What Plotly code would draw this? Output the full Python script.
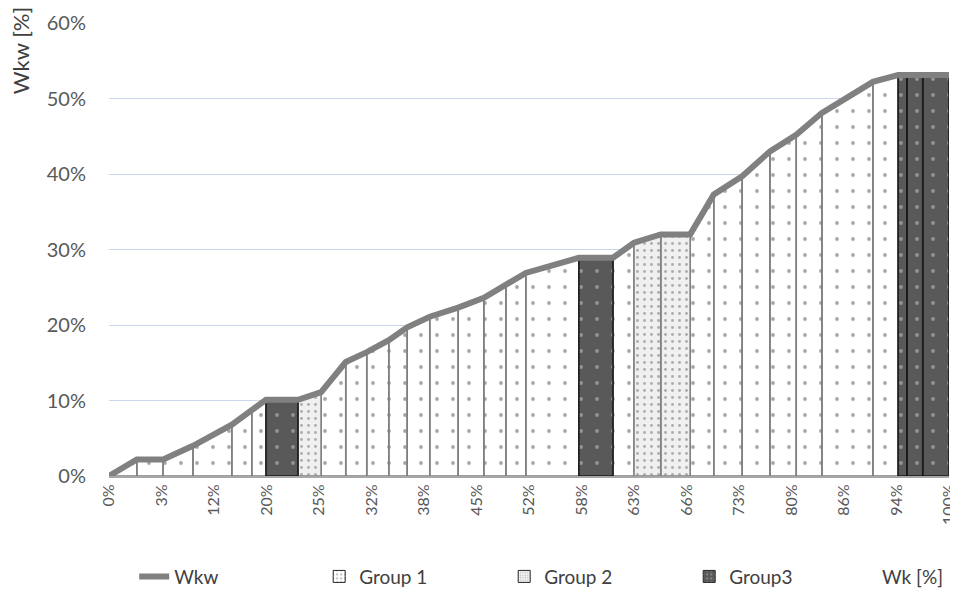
import plotly.graph_objects as go

# ---- data ----
wk_labels = ["0%", "3%", "12%", "20%", "25%", "32%", "38%", "45%", "52%",
             "58%", "63%", "66%", "73%", "80%", "86%", "94%", "100%"]
# positions of the Wkw vertices along the (evenly labelled) Wk axis, in label slots
wk_pos = [0, 0.53, 1.03, 1.6, 2.34, 2.72, 2.99, 3.6, 4.04, 4.51, 4.91, 5.33,
          5.68, 6.11, 6.65, 7.14, 7.56, 7.94, 8.95, 9.6, 10.0, 10.51, 11.07,
          11.52, 12.06, 12.59, 13.09, 13.58, 14.55, 15.03, 15.2, 15.5, 16.0]
# cumulative Wkw [%] at each vertex
wkw = [0, 2.2, 2.2, 4.0, 6.8, 8.6, 10.1, 10.1, 11.1, 15.1, 16.4, 18.0, 19.7,
       21.1, 22.3, 23.6, 25.3, 26.9, 28.9, 28.9, 30.9, 32.0, 32.0, 37.3, 39.7,
       43.0, 45.2, 48.1, 52.2, 53.1, 53.1, 53.1, 53.1]
# group of each segment between consecutive vertices
segment_group = [1, 1, 1, 1, 1, 1, 3, 2, 1, 1, 1, 1, 1, 1, 1, 1, 1, 1, 3, 1,
                 2, 2, 1, 1, 1, 1, 1, 1, 1, 3, 3, 3]
group_names = {1: "Group 1", 2: "Group 2", 3: "Group3"}
y_ticks = [0, 10, 20, 30, 40, 50, 60]

styles = {
    1: dict(bg="#ffffff", fg="#505050", size=16, solidity=0.045, edge="#808080"),
    2: dict(bg="#f0f0f0", fg="#6a6a6a", size=7, solidity=0.14, edge="#808080"),
    3: dict(bg="#595959", fg="#d0d0d0", size=16, solidity=0.045, edge="#1a1a1a"),
}

fig = go.Figure()

# filled segments under the Wkw curve, one trace per group
for g in (1, 2, 3):
    xs, ys = [], []
    for i, sg in enumerate(segment_group):
        if sg != g:
            continue
        x0, x1 = wk_pos[i], wk_pos[i + 1]
        y0, y1 = wkw[i], wkw[i + 1]
        xs += [x0, x0, x1, x1, x0, None]
        ys += [0, y0, y1, 0, 0, None]
    st = styles[g]
    fig.add_trace(go.Scatter(
        x=xs, y=ys, mode="lines", fill="toself",
        fillcolor=st["bg"],
        fillpattern=dict(shape=".", bgcolor=st["bg"], fgcolor=st["fg"],
                         size=st["size"], solidity=st["solidity"]),
        line=dict(color=st["edge"], width=1.6),
        showlegend=False, hoverinfo="skip",
    ))

# Wkw line
fig.add_trace(go.Scatter(
    x=wk_pos, y=wkw, mode="lines", name="Wkw",
    line=dict(color="#808080", width=6), cliponaxis=False,
))

# legend entries for the groups
for g in (1, 2, 3):
    st = styles[g]
    fig.add_trace(go.Bar(
        x=[None], y=[None], name=group_names[g],
        marker=dict(color=st["bg"],
                    pattern=dict(shape=".", bgcolor=st["bg"], fgcolor=st["fg"],
                                 size=5 if g != 2 else 3, solidity=0.2),
                    line=dict(color="#262626", width=1)),
    ))

# the page body adds an 8px offset, so the figure is 8px smaller than the window
fig.update_layout(
    width=950, height=588,
    margin=dict(l=101, r=9, t=15, b=120, autoexpand=False),
    plot_bgcolor="white", paper_bgcolor="white",
    font=dict(family="Lato, 'Open Sans', sans-serif", size=15, color="#595959"),
    showlegend=True,
    legend=dict(orientation="h", x=0.03, y=-0.222, xanchor="left", yanchor="middle",
                entrywidth=140, entrywidthmode="pixels",
                font=dict(size=19, color="#404040"), traceorder="normal"),
    xaxis=dict(type="linear", range=[0, 16], tickmode="array",
               tickvals=list(range(len(wk_labels))), ticktext=wk_labels,
               tickangle=-90, showgrid=False, zeroline=False, automargin=False,
               showline=True, linecolor="#a6a6a6", linewidth=2, ticks="",
               tickfont=dict(size=16, color="#595959")),
    yaxis=dict(range=[0, 60], tickmode="array", tickvals=y_ticks,
               ticktext=[f"{v}%" for v in y_ticks], automargin=False,
               showgrid=True, gridcolor="#c8d7ec", gridwidth=1, zeroline=False,
               showline=False, ticks="", ticklabelstandoff=22,
               tickfont=dict(size=20, color="#595959")),
    annotations=[
        dict(text="Wkw [%]", xref="paper", yref="paper", x=-0.105, y=1.04,
             xanchor="center", yanchor="top", textangle=-90, showarrow=False,
             font=dict(size=22, color="#404040")),
        dict(text="Wk [%]", xref="paper", yref="paper", x=0.956, y=-0.222,
             xanchor="center", yanchor="middle", showarrow=False,
             font=dict(size=19, color="#404040")),
    ],
)

fig.write_html("out.html")
